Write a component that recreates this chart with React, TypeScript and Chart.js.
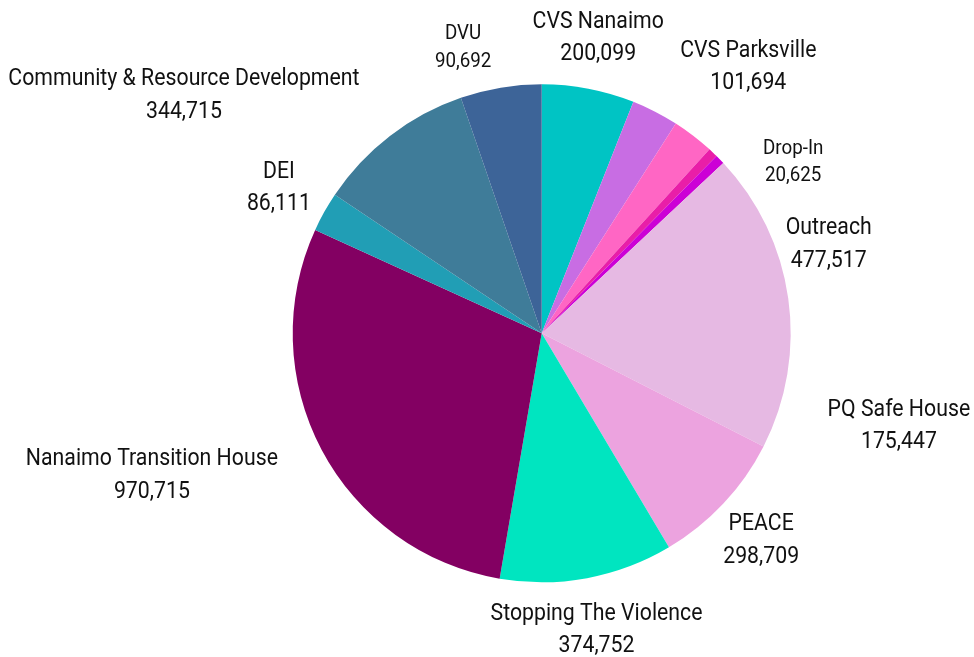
import React, { useEffect, useRef } from "react";
import { Chart, registerables } from "chart.js";

Chart.register(...registerables);

// Slices, clockwise from 12 o'clock
const sliceCategories = [
  "CVS Nanaimo",
  "CVS Parksville",
  "DVU",
  "Drop-In",
  "Drop-In (2)",
  "Outreach",
  "PEACE",
  "Stopping The Violence",
  "Nanaimo Transition House",
  "DEI",
  "Community & Resource Development",
  "PQ Safe House",
];
const sliceValues = [200099, 101694, 90692, 20625, 20625, 650000, 298709, 374752, 970715, 86111, 344715, 175447];
const sliceColors = [
  "#00C4C4",
  "#C86DE3",
  "#FF66C4",
  "#E91EA8",
  "#CC00D6",
  "#E6B9E3",
  "#ECA3DF",
  "#00E5C0",
  "#830062",
  "#219EB5",
  "#3F7C99",
  "#3D6498",
];

// Text labels as shown around the pie
const labelNames = [
  "DVU",
  "CVS Nanaimo",
  "CVS Parksville",
  "Drop-In",
  "Outreach",
  "PQ Safe House",
  "PEACE",
  "Stopping The Violence",
  "Nanaimo Transition House",
  "DEI",
  "Community & Resource Development",
];
const labelValues = [90692, 200099, 101694, 20625, 477517, 175447, 298709, 374752, 970715, 86111, 344715];

// Label placement: angle (deg, clockwise from top), distance in radii, font size, half line gap
const labelLayout = [
  { angle: 344.7, dist: 1.196, size: 20.3, gap: 14 },
  { angle: 10.8, dist: 1.211, size: 23, gap: 16 },
  { angle: 37.7, dist: 1.357, size: 23, gap: 16 },
  { angle: 55.6, dist: 1.224, size: 20.3, gap: 13.5 },
  { angle: 72.6, dist: 1.208, size: 23, gap: 16.5 },
  { angle: 104.4, dist: 1.481, size: 23, gap: 16 },
  { angle: 133.2, dist: 1.209, size: 23, gap: 16.5 },
  { angle: 169.5, dist: 1.208, size: 23, gap: 16 },
  { angle: 250.1, dist: 1.665, size: 23, gap: 16.5 },
  { angle: 299.1, dist: 1.208, size: 23, gap: 16 },
  { angle: 303.7, dist: 1.727, size: 23, gap: 16.5 },
];

const fmt = (v: number) => v.toLocaleString("en-US");

const outsideLabels = {
  id: "outsideLabels",
  afterDraw(chart: any) {
    const meta = chart.getDatasetMeta(0);
    const arc = meta.data[0];
    if (!arc) return;
    const { x, y, outerRadius } = arc.getProps(["x", "y", "outerRadius"], true);
    const ctx = chart.ctx;
    labelNames.forEach((name, i) => {
      const lay = labelLayout[i];
      const a = (lay.angle * Math.PI) / 180;
      const cx = x + Math.sin(a) * outerRadius * lay.dist;
      const cy = y - Math.cos(a) * outerRadius * lay.dist + 1.5;
      ctx.save();
      ctx.translate(cx, cy);
      ctx.scale(0.925, 1);
      ctx.fillStyle = "#111111";
      ctx.textAlign = "center";
      ctx.textBaseline = "middle";
      ctx.font = `${lay.size}px Roboto`;
      ctx.fillText(name, 0, -lay.gap);
      ctx.fillText(fmt(labelValues[i]), 0, lay.gap);
      ctx.restore();
    });
  },
};

export default function App() {
  const ref = useRef<HTMLCanvasElement | null>(null);
  useEffect(() => {
    if (!ref.current) return;
    const chart = new Chart(ref.current, {
      type: "pie",
      data: {
        labels: sliceCategories,
        datasets: [
          {
            data: sliceValues,
            backgroundColor: sliceColors,
            borderWidth: 0,
          },
        ],
      },
      options: {
        responsive: false,
        animation: false,
        layout: { padding: { left: 292.7, right: 183.3, top: 84.3, bottom: 74.7 } },
        plugins: {
          legend: { display: false },
          tooltip: { enabled: false },
        },
      },
      plugins: [outsideLabels],
    });
    return () => chart.destroy();
  }, []);
  return (
    <div style={{ position: "absolute", left: 0, top: 0, width: 974, height: 657, background: "#fff" }}>
      <canvas ref={ref} width={974} height={657} style={{ width: 974, height: 657, display: "block" }} />
    </div>
  );
}
